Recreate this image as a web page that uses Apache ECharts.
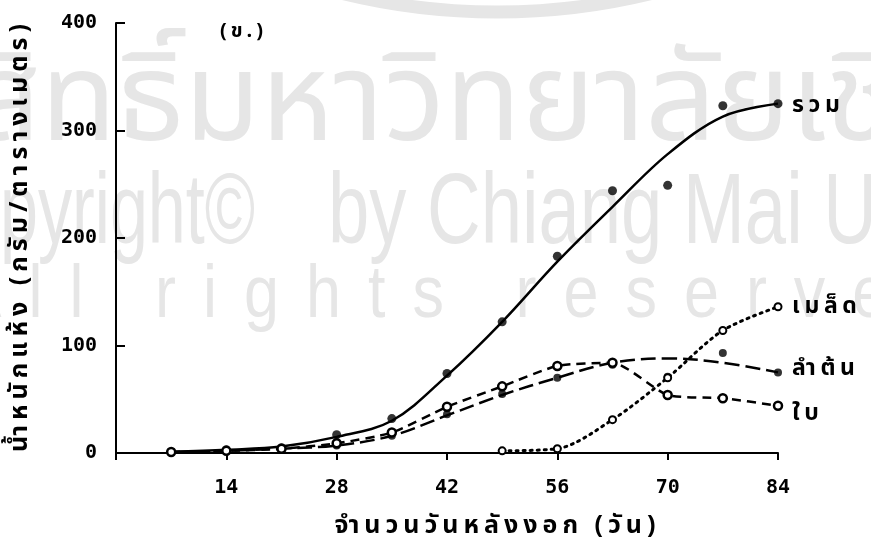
<!DOCTYPE html>
<html>
<head>
<meta charset="utf-8">
<script src="https://cdn.jsdelivr.net/npm/echarts@6/dist/echarts.min.js"></script>
<style>
  html, body { margin: 0; padding: 0; background: #fff; }
  #chart { width: 871px; height: 543px; }
</style>
</head>
<body>
<div id="chart"></div>
<script>
// Sampling days after emergence
const days = [7, 14, 21, 28, 35, 42, 49, 56, 63, 70, 77, 84];
// Total dry weight: measured points and fitted curve (g/m2)
const totalDots  = [1, 3, 5, 17, 32, 74, 122, 183, 244, 249, 323, 325];
const totalCurve = [1, 3, 6, 15, 30, 72, 122, 178, 229, 278, 313, 325];
// Stem dry weight: measured points and fitted curve
const stemDots  = [1, 2, 4, 7, 16, 36, 55, 70, 82, 71, 93, 75];
const stemCurve = [1, 2, 4, 7, 16, 35, 54, 70, 84, 88, 84, 75];
// Leaf dry weight
const leafVals = [1, 2, 4, 9, 19, 43, 62, 81, 84, 54, 51, 44];
// Seed dry weight
const seedDays = [49, 56, 63, 70, 77, 84];
const seedVals = [2, 4, 31, 70, 114, 136];

const xTicks = [14, 28, 42, 56, 70, 84];
const yTicks = [0, 100, 200, 300, 400];

const names = { total: 'รวม', seed: 'เมล็ด', stem: 'ลำต้น', leaf: 'ใบ' };
const panelTag = '(ข.)';
const xTitle = 'จำนวนวันหลังงอก (วัน)';
const yTitle = 'น้ำหนักแห้ง (กรัม/ตารางเมตร)';
const wmThai = 'ลิขสิทธิ์มหาวิทยาลัยเชียงใหม่';
const wmCopy = 'Copyright©';
const wmBy = 'by Chiang Mai University';
const wmRights = 'All rights reserved';

const pair = (xs, ys) => xs.map((x, i) => [x, ys[i]]);
const ink = '#000';
const monoFont = '"DejaVu Sans Mono", "Liberation Mono", monospace';
const thaiFont = '"Noto Sans Thai", "Noto Sans", "DejaVu Sans", sans-serif';
const latinFont = '"Liberation Sans", Arial, sans-serif';

// Typewriter-style spacing: a thin space before every spacing character,
// but never before Thai marks that attach to the previous letter (or sara am).
const attaches = c => /[\u0E31\u0E33-\u0E3A\u0E47-\u0E4E]/.test(c);
const spaced = s => {
  let out = '';
  Array.from(s).forEach((c, i) => {
    if (i > 0 && !attaches(c)) out += '\u2009';
    out += c;
  });
  return out;
};

// text metrics helper (middle baseline, as zrender draws with verticalAlign 'middle')
const mctx = document.createElement('canvas').getContext('2d');
const metrics = (font, text) => { mctx.font = font; mctx.textBaseline = 'middle'; return mctx.measureText(text); };
const glyphHeight = (family, ch) => {
  const m = metrics('100px ' + family, ch);
  return (m.actualBoundingBoxAscent + m.actualBoundingBoxDescent) / 100;
};

// ---- faint background lettering ----
const wmFill = '#e6e6e6';
const wmShadow = { textShadowColor: '#d3d3d3', textShadowOffsetX: 2, textShadowOffsetY: 2 };
const wmGraphics = [
  { type: 'circle', shape: { cx: 497, cy: -638, r: 650 },
    style: { stroke: wmFill, lineWidth: 13, fill: null }, z: -10, silent: true }
];

// Thai line: letter body 72..140, 'ว' starting at 384 and 'ช' at 827
{
  const size = 68 / glyphHeight(thaiFont, 'ห');
  const font = size + 'px ' + thaiFont;
  const base = 140 - metrics(font, 'ห').actualBoundingBoxDescent;
  const wA = metrics(font, wmThai.slice(0, wmThai.indexOf('ว'))).width;
  const wB = metrics(font, wmThai.slice(0, wmThai.indexOf('ช'))).width;
  const sx = (827 - 384) / (wB - wA);
  wmGraphics.push({ type: 'text', x: 384 - wA * sx, y: base, scaleX: sx, z: -10, silent: true,
    style: Object.assign({ text: wmThai, font: font, fill: wmFill, align: 'left', verticalAlign: 'middle' }, wmShadow) });
}
// English line: ascender top 170, baseline 243
{
  const size = 73 / glyphHeight(latinFont, 'h');
  const font = size + 'px ' + latinFont;
  const mid = 243 - metrics(font, 'h').actualBoundingBoxDescent;
  const wCo = metrics(font, 'Co').width;
  const wAll = metrics(font, wmCopy).width;
  const s1 = 255 / (wAll - wCo);
  wmGraphics.push({ type: 'text', x: -wCo * s1, y: mid, scaleX: s1, z: -10, silent: true,
    style: Object.assign({ text: wmCopy, font: font, fill: wmFill, align: 'left', verticalAlign: 'middle' }, wmShadow) });
  const wM = metrics(font, 'by Chiang ').width;
  const s2 = (683 - 328) / wM;
  wmGraphics.push({ type: 'text', x: 328, y: mid, scaleX: s2, z: -10, silent: true,
    style: Object.assign({ text: wmBy, font: font, fill: wmFill, align: 'left', verticalAlign: 'middle' }, wmShadow) });
}
// Third line: letter-spaced, x-height 40 on baseline 317, 'r' of rights starting at 155
{
  const size = 40 / glyphHeight(latinFont, 'x');
  const font = size + 'px ' + latinFont;
  const mid = 317 - metrics(font, 'x').actualBoundingBoxDescent;
  const sx = 0.85, gap = 27;
  const lefts = [];
  let cur = 0;
  for (const ch of wmRights) {
    lefts.push(cur);
    cur += metrics(font, ch).width * sx + gap;
  }
  const shift = 155 - lefts[wmRights.indexOf('r')];
  Array.from(wmRights).forEach((ch, i) => {
    if (ch === ' ') return;
    wmGraphics.push({ type: 'text', x: lefts[i] + shift, y: mid, scaleX: sx, z: -10, silent: true,
      style: Object.assign({ text: ch, font: font, fill: wmFill, align: 'left', verticalAlign: 'middle' }, wmShadow) });
  });
}

const endLbl = (text, dy) => ({
  show: true, formatter: spaced(text), distance: 14, offset: [0, dy],
  color: ink, fontFamily: thaiFont, fontSize: 23, fontWeight: 'bold'
});

const chart = echarts.init(document.getElementById('chart'), null, { renderer: 'canvas' });
chart.setOption({
  animation: false,
  backgroundColor: '#fff',
  grid: { left: 116, right: 93, top: 23, bottom: 90, containLabel: false, outerBoundsMode: 'none' },
  xAxis: {
    type: 'value', min: 0, max: 84, interval: 14,
    axisLine: { lineStyle: { color: ink, width: 2 } },
    axisTick: { show: true, length: 7, inside: false, lineStyle: { color: ink, width: 2 } },
    axisLabel: { color: ink, fontFamily: monoFont, fontWeight: 'bold', fontSize: 20, margin: 25,
                 formatter: v => (xTicks.includes(v) ? String(v) : '') },
    splitLine: { show: false },
    name: spaced(xTitle), nameLocation: 'middle', nameGap: 62,
    nameTextStyle: { color: ink, fontFamily: thaiFont, fontSize: 25, fontWeight: 'bold', padding: [0, 0, 0, 96] }
  },
  yAxis: {
    type: 'value', min: 0, max: 400, interval: 100,
    axisLine: { show: true, lineStyle: { color: ink, width: 2 } },
    axisTick: { show: true, length: 9, inside: true, lineStyle: { color: ink, width: 2 } },
    axisLabel: { color: ink, fontFamily: monoFont, fontWeight: 'bold', fontSize: 20, margin: 19,
                 formatter: v => (yTicks.includes(v) ? String(v) : '') },
    splitLine: { show: false },
    name: spaced(yTitle), nameLocation: 'middle', nameGap: 82, nameRotate: 90,
    nameTextStyle: { color: ink, fontFamily: thaiFont, fontSize: 25, fontWeight: 'bold' }
  },
  graphic: wmGraphics.concat([
    { type: 'text', x: 220, y: 33, z: 10,
      style: { text: spaced(panelTag), font: 'bold 20px ' + thaiFont, fill: ink, align: 'left', verticalAlign: 'middle' } }
  ]),
  series: [
    { name: names.total, type: 'line', data: pair(days, totalCurve), smooth: 0.35, showSymbol: false,
      lineStyle: { color: ink, width: 2.5 }, endLabel: endLbl(names.total, 4), z: 3 },
    { type: 'scatter', data: pair(days, totalDots), symbol: 'circle', symbolSize: 9,
      itemStyle: { color: ink }, z: 4 },
    { name: names.stem, type: 'line', data: pair(days, stemCurve), smooth: 0.35, showSymbol: false,
      lineStyle: { color: ink, width: 2.5, type: [15, 6] }, endLabel: endLbl(names.stem, -2), z: 3 },
    { type: 'scatter', data: pair(days, stemDots), symbol: 'circle', symbolSize: 8,
      itemStyle: { color: ink }, z: 4 },
    { name: names.leaf, type: 'line', data: pair(days, leafVals), smooth: 0.2,
      symbol: 'circle', symbolSize: 8, showAllSymbol: true,
      itemStyle: { color: '#fff', borderColor: ink, borderWidth: 2.5 },
      lineStyle: { color: ink, width: 2.5, type: [9, 6] }, endLabel: endLbl(names.leaf, 10), z: 5 },
    { name: names.seed, type: 'line', data: pair(seedDays, seedVals), smooth: 0.3,
      symbol: 'circle', symbolSize: 7, showAllSymbol: true,
      itemStyle: { color: '#fff', borderColor: ink, borderWidth: 2 },
      lineStyle: { color: ink, width: 3, type: [2, 5], cap: 'round' }, endLabel: endLbl(names.seed, 2), z: 5 }
  ]
});
</script>
</body>
</html>
